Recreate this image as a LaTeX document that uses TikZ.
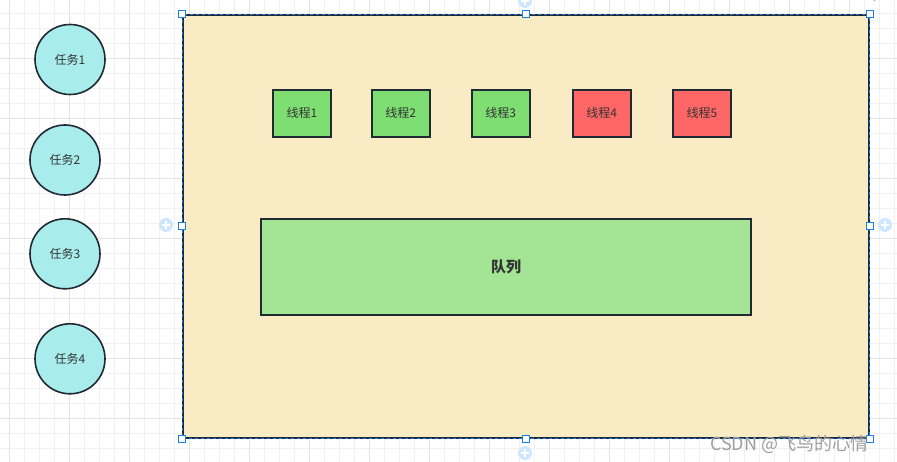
\documentclass[tikz,border=0pt]{standalone}
\usepackage{fontspec}
\newfontfamily\cjk{Noto Sans CJK SC}
\usetikzlibrary{arrows.meta,calc}
\definecolor{gridminor}{HTML}{F1F1F1}
\definecolor{gridmajor}{HTML}{E3E3E3}
\definecolor{outline}{HTML}{1F2A33}
\definecolor{beige}{HTML}{F9EBC3}
\definecolor{taskfill}{HTML}{A8ECEC}
\definecolor{greenbox}{HTML}{7EDE72}
\definecolor{redbox}{HTML}{FF6666}
\definecolor{queuefill}{HTML}{A3E594}
\definecolor{selblue}{HTML}{1A7FE8}
\definecolor{plusblue}{HTML}{CFE6FF}
\definecolor{txt}{HTML}{333333}
\definecolor{rotgray}{HTML}{A3AEBA}
\tikzset{
  task/.style={circle,draw=outline,line width=1.6pt,fill=taskfill,minimum size=70pt,inner sep=0pt,font=\cjk\fontsize{12}{14}\selectfont,text=txt},
  thread/.style={rectangle,draw=outline,line width=1.6pt,minimum width=58pt,minimum height=47pt,inner sep=0pt,font=\cjk\fontsize{12}{14}\selectfont,text=txt},
  queuebox/.style={rectangle,draw=outline,line width=1.6pt,fill=queuefill,minimum width=490pt,minimum height=96pt,inner sep=0pt,font=\cjk\bfseries\fontsize{15}{18}\selectfont,text=txt},
  handle/.style={rectangle,draw=selblue,fill=white,line width=1pt,minimum size=7pt,inner sep=0pt},
  plusdot/.style={circle,fill=plusblue,minimum size=14pt,inner sep=0pt},
}
\begin{document}
\begin{tikzpicture}[x=1pt,y=-1pt]
\useasboundingbox (0,0) rectangle (897,462);
\fill[white] (0,0) rectangle (897,462);
% grid
\foreach \k in {0,...,59} {
  \draw[gridminor,line width=1pt] ({9.5+15*\k},0) -- ({9.5+15*\k},462);
}
\foreach \k in {0,...,31} {
  \draw[gridminor,line width=1pt] (0,{-1.7+15*\k}) -- (897,{-1.7+15*\k});
}
\foreach \k in {0,...,14} {
  \draw[gridmajor,line width=1pt] ({9.5+60*\k},0) -- ({9.5+60*\k},462);
}
\foreach \k in {0,...,8} {
  \draw[gridmajor,line width=1pt] (0,{-1.7+60*\k}) -- (897,{-1.7+60*\k});
}
% container
\node[rectangle,fill=beige,draw=outline,line width=1.8pt,minimum width=686pt,minimum height=423pt,inner sep=0pt,anchor=north west] (box) at (182,14) {};
\draw[selblue,line width=0.9pt,dash pattern=on 3pt off 3pt] (box.north west) rectangle (box.south east);
% tasks
\node[task] (t1) at (70,59.5) {任务1};
\node[task] (t2) at (65,160) {任务2};
\node[task] (t3) at (65,253.8) {任务3};
\node[task] (t4) at (70,358.8) {任务4};
% threads
\node[thread,fill=greenbox] (th1) at (302,113.3) {线程1};
\node[thread,fill=greenbox] (th2) at (400.8,113.3) {线程2};
\node[thread,fill=greenbox] (th3) at (500.8,113.3) {线程3};
\node[thread,fill=redbox] (th4) at (601.8,113.3) {线程4};
\node[thread,fill=redbox] (th5) at (702,113.3) {线程5};
% queue
\node[queuebox] (q) at (506,267) {队列};
% selection handles
\node[handle] (h1) at (box.north west) {};
\node[handle] (h2) at (box.north) {};
\node[handle] (h3) at (box.north east) {};
\node[handle] (h4) at (box.west) {};
\node[handle] (h5) at (box.east) {};
\node[handle] (h6) at (box.south west) {};
\node[handle] (h7) at (box.south) {};
\node[handle] (h8) at (box.south east) {};
% plus circles
\foreach \n/\p in {p1/{(166,225)},p2/{(885,225)},p3/{(525,1)},p4/{(525,453)}} {
  \node[plusdot] (\n) at \p {};
  \draw[white,line width=1.2pt] ($(\n)+(-4,0)$) -- ($(\n)+(4,0)$);
  \draw[white,line width=1.2pt] ($(\n)+(0,-4)$) -- ($(\n)+(0,4)$);
}
% rotate icon
\coordinate (rot) at (873,3);
\draw[rotgray,line width=1.2pt,-{Stealth[length=2.5pt]}] ($(rot)+(1,-2)$) arc[start angle=60,end angle=-100,radius=4];
% watermark
\node[font=\cjk\fontsize{18}{20}\selectfont,text=black!38,anchor=west,inner sep=0pt] (wm) at (710,444.5) {CSDN @飞鸟的心情};
\end{tikzpicture}
\end{document}
